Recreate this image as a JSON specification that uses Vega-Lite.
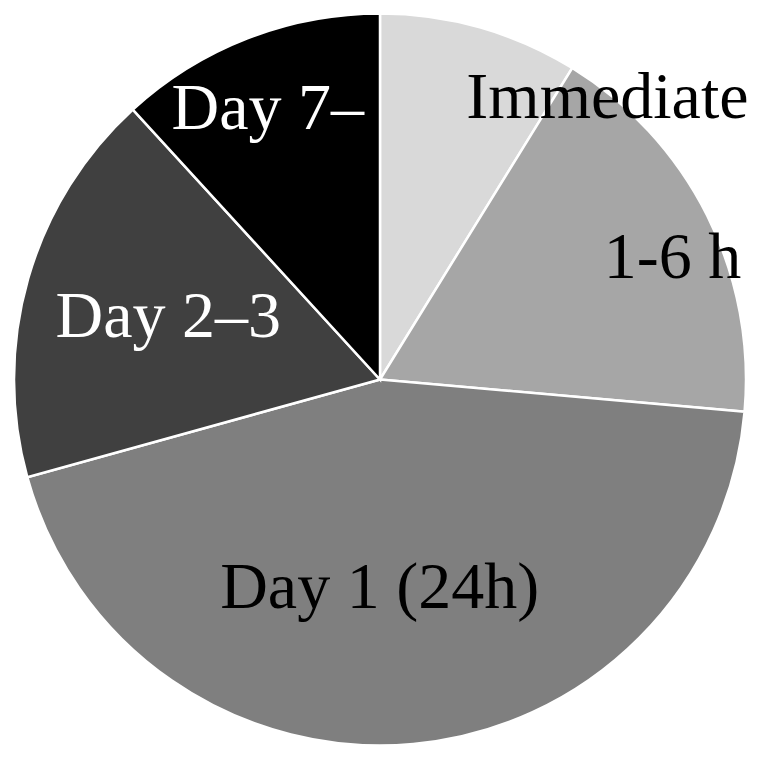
{
  "$schema": "https://vega.github.io/schema/vega-lite/v6.json",
  "autosize": {"type": "none"},
  "width": 760,
  "height": 759,
  "padding": 0,
  "background": "white",
  "config": {"view": {"stroke": null}},
  "data": {
    "values": [
      {"label": "Immediate", "value": 8.8, "order": 1},
      {"label": "1-6 h", "value": 17.6, "order": 2},
      {"label": "Day 1 (24h)", "value": 44.3, "order": 3},
      {"label": "Day 2–3", "value": 17.5, "order": 4},
      {"label": "Day 7–", "value": 11.8, "order": 5}
    ]
  },
  "encoding": {
    "theta": {"field": "value", "type": "quantitative", "stack": true},
    "order": {"field": "order", "type": "quantitative"}
  },
  "layer": [
    {
      "mark": {"type": "arc", "radius": 366, "stroke": "white", "strokeWidth": 2.5},
      "encoding": {
        "color": {
          "field": "label",
          "type": "nominal",
          "legend": null,
          "scale": {
            "domain": ["Immediate", "1-6 h", "Day 1 (24h)", "Day 2–3", "Day 7–"],
            "range": ["#d9d9d9", "#a6a6a6", "#7f7f7f", "#404040", "#000000"]
          }
        }
      }
    },
    {
      "mark": {"type": "text", "radius": 313, "dx": 142, "dy": 40, "font": "Liberation Serif", "fontSize": 66, "align": "center", "baseline": "alphabetic", "fill": "black"},
      "encoding": {"text": {"condition": {"test": "datum.label === 'Immediate'", "field": "label", "type": "nominal"}, "value": ""}}
    },
    {
      "mark": {"type": "text", "radius": 307, "dx": 18, "dy": 36, "font": "Liberation Serif", "fontSize": 66, "align": "center", "baseline": "alphabetic", "fill": "black"},
      "encoding": {"text": {"condition": {"test": "datum.label === '1-6 h'", "field": "label", "type": "nominal"}, "value": ""}}
    },
    {
      "mark": {"type": "text", "radius": 227, "dx": -21, "dy": 2, "font": "Liberation Serif", "fontSize": 66, "align": "center", "baseline": "alphabetic", "fill": "black"},
      "encoding": {"text": {"condition": {"test": "datum.label === 'Day 1 (24h)'", "field": "label", "type": "nominal"}, "value": ""}}
    },
    {
      "mark": {"type": "text", "radius": 215, "dx": -5, "dy": 17, "font": "Liberation Serif", "fontSize": 66, "align": "center", "baseline": "alphabetic", "fill": "white"},
      "encoding": {"text": {"condition": {"test": "datum.label === 'Day 2–3'", "field": "label", "type": "nominal"}, "value": ""}}
    },
    {
      "mark": {"type": "text", "radius": 274, "dx": -13, "dy": 5, "font": "Liberation Serif", "fontSize": 66, "align": "center", "baseline": "alphabetic", "fill": "white"},
      "encoding": {"text": {"condition": {"test": "datum.label === 'Day 7–'", "field": "label", "type": "nominal"}, "value": ""}}
    }
  ]
}
